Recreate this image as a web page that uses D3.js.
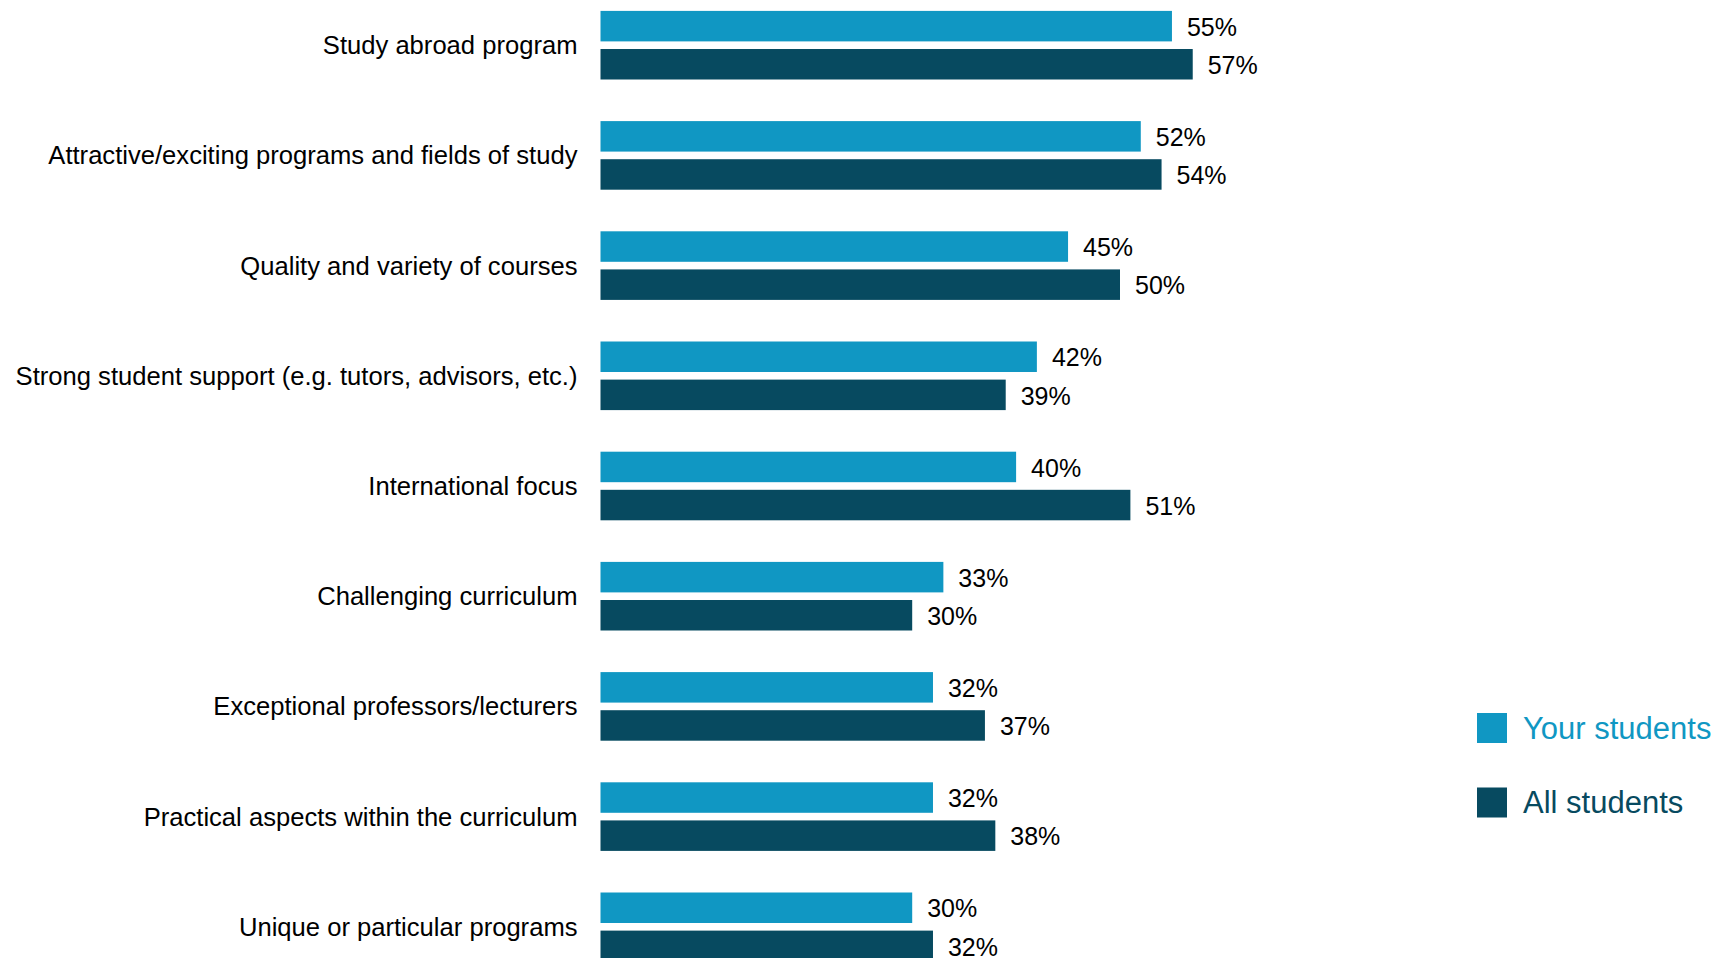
<!DOCTYPE html>
<html>
<head>
<meta charset="utf-8">
<script src="https://cdn.jsdelivr.net/npm/d3@7"></script>
<style>
  html, body { margin: 0; padding: 0; background: #fff; }
  svg { display: block; font-family: "Liberation Sans", Arial, sans-serif; }
</style>
</head>
<body>
<svg id="chart" width="1712" height="958"></svg>
<script>
// Reasons for choosing the institution, share of respondents (%)
const categories = [
  "Study abroad program",
  "Attractive/exciting programs and fields of study",
  "Quality and variety of courses",
  "Strong student support (e.g. tutors, advisors, etc.)",
  "International focus",
  "Challenging curriculum",
  "Exceptional professors/lecturers",
  "Practical aspects within the curriculum",
  "Unique or particular programs"
];
const yourStudents = [55, 52, 45, 42, 40, 33, 32, 32, 30];
const allStudents  = [57, 54, 50, 39, 51, 30, 37, 38, 32];
const seriesNames  = ["Your students", "All students"];
const seriesColors = ["#1097c3", "#074a60"];

const rows = categories.map((c, i) => ({
  category: c,
  values: [
    { key: seriesNames[0], value: yourStudents[i] },
    { key: seriesNames[1], value: allStudents[i] }
  ]
}));

const svg = d3.select("#chart");

const x = d3.scaleLinear().domain([0, 100]).range([600.5, 1639.5]);

const y = d3.scaleBand()
  .domain(categories)
  .range([-9.9, 981.9])
  .paddingInner(0.3775)
  .paddingOuter(0.3775 / 2);

const ySub = d3.scaleBand()
  .domain(seriesNames)
  .range([0, y.bandwidth()])
  .paddingInner(0.2);

const color = d3.scaleOrdinal().domain(seriesNames).range(seriesColors);

// Category labels, right-aligned against the bars
svg.append("g")
  .selectAll("text")
  .data(categories)
  .join("text")
  .attr("x", 577.5)
  .attr("y", d => y(d) + y.bandwidth() / 2)
  .attr("dy", "0.35em")
  .attr("text-anchor", "end")
  .attr("font-size", 25.6)
  .attr("fill", "#000")
  .text(d => d);

// Grouped bars
const groups = svg.append("g")
  .selectAll("g")
  .data(rows)
  .join("g")
  .attr("transform", d => `translate(0,${y(d.category)})`);

groups.selectAll("rect")
  .data(d => d.values)
  .join("rect")
  .attr("x", x(0))
  .attr("y", d => ySub(d.key))
  .attr("width", d => x(d.value) - x(0))
  .attr("height", ySub.bandwidth())
  .attr("fill", d => color(d.key));

groups.selectAll("text")
  .data(d => d.values)
  .join("text")
  .attr("x", d => x(d.value) + 15)
  .attr("y", d => ySub(d.key) + ySub.bandwidth() / 2 + 1)
  .attr("dy", "0.35em")
  .attr("font-size", 25)
  .attr("fill", "#000")
  .text(d => d.value + "%");

// Legend
const legend = svg.append("g")
  .selectAll("g")
  .data(seriesNames)
  .join("g")
  .attr("transform", (d, i) => `translate(1477,${713 + i * 74.5})`);

legend.append("rect")
  .attr("width", 30)
  .attr("height", 30)
  .attr("fill", d => color(d));

legend.append("text")
  .attr("x", 46)
  .attr("y", 15)
  .attr("dy", "0.35em")
  .attr("font-size", 31)
  .attr("fill", d => color(d))
  .text(d => d);
</script>
</body>
</html>
